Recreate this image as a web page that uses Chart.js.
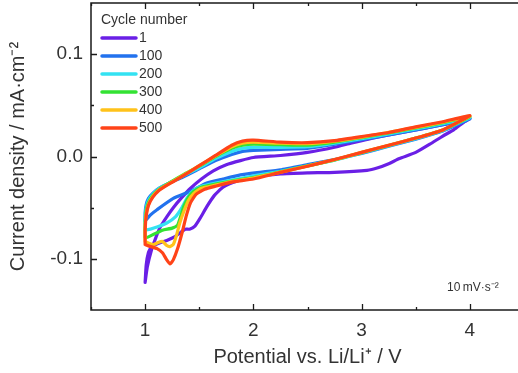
<!DOCTYPE html>
<html>
<head>
<meta charset="utf-8">
<script src="https://cdn.jsdelivr.net/npm/chart.js@4.4.1/dist/chart.umd.min.js"></script>
<style>
  html, body { margin: 0; padding: 0; background: #fff; overflow: hidden; }
  #wrap { width: 526px; height: 373px; }
</style>
</head>
<body>
<div id="wrap"><canvas id="cv" width="526" height="373"></canvas></div>
<script>
// Cycle labels and colours
const cycles = ['1', '100', '200', '300', '400', '500'];
const colors = ['#6a1fe6', '#2272ee', '#33e2f2', '#33e233', '#ffc21a', '#ff4318'];

// Potential (V) and current density (mA/cm2) for each cycle
const potential1 = [1.00, 1.02, 1.06, 1.10, 1.14, 1.20, 1.26, 1.34, 1.42, 1.52, 1.63, 1.75, 1.88, 2.00, 2.25, 2.50, 2.75, 2.90, 3.10, 3.35, 3.60, 3.80, 4.00,
  3.95, 3.85, 3.75, 3.63, 3.50, 3.35, 3.25, 3.15, 3.05, 2.75, 2.50, 2.25, 2.00, 1.85, 1.72, 1.64, 1.57, 1.51, 1.46, 1.41, 1.37, 1.33, 1.28, 1.20, 1.12, 1.06, 1.03, 1.01, 1.00];
const current1 = [-0.123, -0.108, -0.091, -0.079, -0.069, -0.059, -0.050, -0.040, -0.031, -0.022, -0.014, -0.008, -0.004, -0.001, 0.001, 0.004, 0.009, 0.013, 0.018, 0.023, 0.028, 0.032, 0.037,
  0.034, 0.026, 0.020, 0.012, 0.004, -0.002, -0.007, -0.011, -0.0135, -0.0155, -0.016, -0.017, -0.020, -0.024, -0.030, -0.038, -0.049, -0.060, -0.068, -0.071, -0.071, -0.074, -0.078, -0.082, -0.085, -0.088, -0.094, -0.106, -0.123];

const potential100 = [1.00, 1.00, 1.01, 1.03, 1.07, 1.13, 1.22, 1.35, 1.50, 1.65, 1.80, 1.90, 2.00, 2.25, 2.50, 2.75, 3.00, 3.25, 3.50, 3.75, 4.00,
  3.90, 3.75, 3.50, 3.25, 3.00, 2.75, 2.50, 2.25, 2.06, 1.88, 1.72, 1.57, 1.42, 1.26, 1.11, 1.05, 1.00];
const current100 = [-0.063, -0.055, -0.047, -0.041, -0.036, -0.031, -0.026, -0.020, -0.012, -0.004, 0.002, 0.005, 0.006, 0.007, 0.008, 0.012, 0.0165, 0.021, 0.026, 0.031, 0.037,
  0.032, 0.025, 0.017, 0.010, 0.003, -0.003, -0.008, -0.013, -0.0155, -0.018, -0.022, -0.026, -0.034, -0.041, -0.052, -0.057, -0.063];

const potential200 = [1.00, 1.00, 1.01, 1.03, 1.07, 1.13, 1.22, 1.35, 1.50, 1.65, 1.80, 1.90, 2.00, 2.25, 2.50, 2.75, 3.00, 3.25, 3.50, 3.75, 4.00,
  3.90, 3.75, 3.50, 3.25, 3.00, 2.75, 2.50, 2.25, 2.00, 1.80, 1.65, 1.52, 1.45, 1.39, 1.34, 1.28, 1.20, 1.11, 1.05, 1.00];
const current200 = [-0.072, -0.060, -0.050, -0.043, -0.037, -0.031, -0.026, -0.019, -0.011, -0.002, 0.005, 0.008, 0.009, 0.009, 0.0095, 0.013, 0.0175, 0.022, 0.027, 0.032, 0.038,
  0.033, 0.0255, 0.0175, 0.0105, 0.0035, -0.0035, -0.009, -0.0145, -0.019, -0.023, -0.026, -0.029, -0.033, -0.040, -0.050, -0.059, -0.065, -0.069, -0.071, -0.072];

const potential300 = [1.00, 1.00, 1.01, 1.03, 1.07, 1.13, 1.22, 1.35, 1.50, 1.65, 1.80, 1.90, 2.00, 2.25, 2.50, 2.75, 3.00, 3.25, 3.50, 3.75, 4.00,
  3.90, 3.75, 3.50, 3.25, 3.00, 2.75, 2.50, 2.25, 2.00, 1.80, 1.65, 1.52, 1.45, 1.40, 1.36, 1.33, 1.30, 1.25, 1.16, 1.08, 1.02, 1.00];
const current300 = [-0.079, -0.065, -0.053, -0.045, -0.038, -0.032, -0.026, -0.018, -0.0095, 0.000, 0.008, 0.011, 0.012, 0.0115, 0.011, 0.014, 0.0185, 0.023, 0.028, 0.033, 0.039,
  0.0335, 0.026, 0.018, 0.0108, 0.0038, -0.0033, -0.0092, -0.015, -0.0205, -0.024, -0.027, -0.030, -0.034, -0.040, -0.048, -0.058, -0.067, -0.070, -0.072, -0.076, -0.079, -0.079];

const potential400 = [1.00, 1.00, 1.01, 1.03, 1.07, 1.13, 1.22, 1.35, 1.50, 1.65, 1.80, 1.90, 2.00, 2.25, 2.50, 2.75, 3.00, 3.25, 3.50, 3.75, 4.00,
  3.90, 3.75, 3.50, 3.25, 3.00, 2.75, 2.50, 2.25, 2.00, 1.80, 1.65, 1.52, 1.45, 1.40, 1.36, 1.32, 1.29, 1.26, 1.23, 1.20, 1.16, 1.12, 1.08, 1.04, 1.00];
const current400 = [-0.083, -0.068, -0.056, -0.047, -0.039, -0.0325, -0.0265, -0.0185, -0.009, 0.0005, 0.0095, 0.013, 0.014, 0.013, 0.0125, 0.015, 0.019, 0.0235, 0.0285, 0.0335, 0.0395,
  0.034, 0.026, 0.018, 0.011, 0.004, -0.0032, -0.0093, -0.0153, -0.021, -0.0245, -0.028, -0.031, -0.036, -0.043, -0.053, -0.065, -0.077, -0.086, -0.088, -0.087, -0.083, -0.084, -0.086, -0.085, -0.083];

const potential500 = [1.00, 1.00, 1.01, 1.03, 1.07, 1.13, 1.22, 1.35, 1.50, 1.65, 1.80, 1.90, 2.00, 2.25, 2.50, 2.75, 3.00, 3.25, 3.50, 3.75, 4.00,
  3.90, 3.75, 3.50, 3.25, 3.00, 2.75, 2.50, 2.25, 2.00, 1.80, 1.65, 1.55, 1.47, 1.42, 1.38, 1.34, 1.30, 1.26, 1.23, 1.20, 1.16, 1.11, 1.05, 1.00];
const current500 = [-0.086, -0.072, -0.058, -0.048, -0.040, -0.033, -0.027, -0.019, -0.009, 0.001, 0.011, 0.015, 0.016, 0.014, 0.0135, 0.0155, 0.0195, 0.0235, 0.029, 0.034, 0.040,
  0.034, 0.026, 0.018, 0.011, 0.004, -0.003, -0.0095, -0.0155, -0.022, -0.025, -0.029, -0.032, -0.037, -0.045, -0.058, -0.075, -0.090, -0.101, -0.105, -0.101, -0.094, -0.090, -0.088, -0.086];

// Axis ticks (labelled)
const xTicks = [1, 2, 3, 4];
const yTicks = [-0.1, 0.0, 0.1];

const potentials = [potential1, potential100, potential200, potential300, potential400, potential500];
const currents = [current1, current100, current200, current300, current400, current500];

const FONT = 'Liberation Sans, Arial, sans-serif';

function toPoints(xs, ys) {
  return xs.map((x, i) => ({ x: x, y: ys[i] }));
}

// Inward ticks, frame box, legend and scan-rate note
const framePlugin = {
  id: 'frame',
  afterDatasetsDraw(chart) {
    const ctx = chart.ctx;
    const a = chart.chartArea;
    const xs = chart.scales.x;
    const ys = chart.scales.y;
    ctx.save();
    ctx.strokeStyle = '#1a1a1a';
    ctx.lineWidth = 1.5;
    ctx.strokeRect(a.left, a.top, a.right - a.left, a.bottom - a.top);

    ctx.lineWidth = 1.3;
    ctx.beginPath();
    for (let k = 1; k <= 8; k++) {
      const v = k * 0.5;
      const px = Math.round(xs.getPixelForValue(v)) + 0.5;
      const len = xTicks.includes(v) ? 6 : 3;
      ctx.moveTo(px, a.bottom); ctx.lineTo(px, a.bottom - len);
      ctx.moveTo(px, a.top); ctx.lineTo(px, a.top + len);
    }
    for (let k = -2; k <= 2; k++) {
      const v = k * 0.05;
      const py = Math.round(ys.getPixelForValue(v)) + 0.5;
      const len = k % 2 === 0 ? 6 : 3;
      ctx.moveTo(a.left, py); ctx.lineTo(a.left + len, py);
      ctx.moveTo(a.right, py); ctx.lineTo(a.right - len, py);
    }
    ctx.stroke();

    // legend
    ctx.fillStyle = '#333';
    ctx.font = '14px ' + FONT;
    ctx.textBaseline = 'middle';
    ctx.textAlign = 'left';
    ctx.fillText('Cycle number', a.left + 10, a.top + 17);
    chart.data.datasets.forEach((ds, i) => {
      const y = a.top + 35 + i * 18;
      ctx.strokeStyle = ds.borderColor;
      ctx.lineWidth = 3.5;
      ctx.lineCap = 'round';
      ctx.beginPath();
      ctx.moveTo(a.left + 11, y);
      ctx.lineTo(a.left + 45, y);
      ctx.stroke();
      ctx.fillStyle = '#333';
      ctx.fillText(ds.label, a.left + 48, y);
    });

    // scan rate
    ctx.font = '12px ' + FONT;
    ctx.textBaseline = 'alphabetic';
    ctx.fillText('10\u2009mV\u00b7s\u207b\u00b2', a.left + 356, a.bottom - 19);
    ctx.restore();
  }
};

const datasets = cycles.map((c, i) => ({
  label: c,
  data: toPoints(potentials[i], currents[i]),
  borderColor: colors[i],
  backgroundColor: colors[i],
  borderWidth: 3.2,
  showLine: true,
  pointRadius: 0,
  tension: 0.15,
  borderJoinStyle: 'round',
  borderCapStyle: 'round',
  order: cycles.length - i
}));

new Chart(document.getElementById('cv'), {
  type: 'scatter',
  data: { datasets: datasets },
  options: {
    responsive: false,
    animation: false,
    layout: { padding: { top: 3, right: 2, left: 0, bottom: 0 } },
    plugins: { legend: { display: false }, tooltip: { enabled: false } },
    scales: {
      x: {
        type: 'linear',
        min: 0.5,
        max: 4.5,
        afterBuildTicks(scale) { scale.ticks = xTicks.map(v => ({ value: v })); },
        afterFit(scale) { scale.height = 63; scale.paddingLeft = 0; scale.paddingRight = 0; },
        grid: { display: false, drawTicks: false },
        border: { display: false },
        ticks: {
          padding: 9,
          color: '#333',
          font: { family: FONT, size: 19 },
          callback: v => String(v)
        },
        title: {
          display: true,
          text: 'Potential vs. Li/Li\u207a / V',
          color: '#333',
          font: { family: FONT, size: 20 },
          padding: { top: 0, bottom: 4 }
        }
      },
      y: {
        type: 'linear',
        min: -0.15,
        max: 0.15,
        afterBuildTicks(scale) { scale.ticks = yTicks.map(v => ({ value: v })); },
        afterFit(scale) { scale.width = 91; scale.paddingTop = 0; scale.paddingBottom = 0; },
        grid: { display: false, drawTicks: false },
        border: { display: false },
        ticks: {
          padding: 8,
          color: '#333',
          font: { family: FONT, size: 19 },
          callback: v => v.toFixed(1)
        },
        title: {
          display: true,
          text: 'Current density / mA\u00b7cm\u207b\u00b2',
          color: '#333',
          font: { family: FONT, size: 20 },
          padding: { top: 6, bottom: 0 }
        }
      }
    }
  },
  plugins: [framePlugin]
});
</script>
</body>
</html>
